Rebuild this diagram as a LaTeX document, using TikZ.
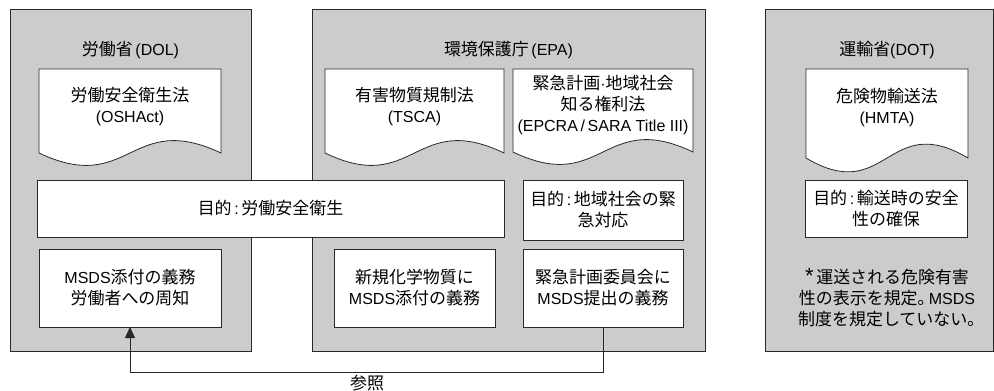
\documentclass[tikz,border=0pt]{standalone}
\usepackage{fontspec}
\setmainfont{Liberation Sans}
\newfontfamily\jp[Scale=1.06]{Noto Sans CJK JP}
\newcommand\J[1]{{\jp #1}}
\usetikzlibrary{arrows.meta}
\definecolor{panelgray}{RGB}{204,204,204}
\definecolor{linecol}{RGB}{40,40,40}
\begin{document}
\begin{tikzpicture}[x=1pt,y=-1pt,
  font=\fontsize{16}{21}\selectfont,
  panel/.style={draw=linecol, fill=panelgray, line width=0.8pt, anchor=north west, inner sep=0pt, outer sep=0pt},
  wbox/.style={draw=linecol, fill=white, line width=0.8pt, anchor=north west, inner sep=0pt, outer sep=0pt, align=center},
  docline/.style={draw=linecol, fill=white, line width=0.8pt},
  lbl/.style={align=center, inner sep=0pt},
  arr/.style={draw=linecol, line width=0.8pt, -{Triangle[length=11pt,width=10pt]}}]
\useasboundingbox (0,0) rectangle (994,391);
% panels
\node[panel, minimum width=241pt, minimum height=342pt] (p1) at (10,9) {};
\node[panel, minimum width=393pt, minimum height=342pt] (p2) at (312,9) {};
\node[panel, minimum width=228pt, minimum height=342pt] (p3) at (765,9) {};
% titles
\node[lbl] (t1) at (130.5,50) {\J{労働省}\,(DOL)};
\node[lbl] (t2) at (508.5,50) {\J{環境保護庁}\,(EPA)};
\node[lbl] (t3) at (887,50) {\J{運輸省}(DOT)};
% documents
\draw[docline] (39,69) -- (221,69) -- (221,153) .. controls (130,110) and (130,196) .. (39,153) -- cycle;
\node[lbl] (d1) at (130,107) {\J{労働安全衛生法}\\(OSHAct)};
\draw[docline] (325,69) -- (504,69) -- (504,153) .. controls (414.5,110) and (414.5,196) .. (325,153) -- cycle;
\node[lbl] (d2) at (414.5,107) {\J{有害物質規制法}\\(TSCA)};
\draw[docline] (513,69) -- (693,69) -- (693,152) .. controls (603,109) and (603,195) .. (513,152) -- cycle;
\node[lbl] (d3) at (603,105) {\J{緊急計画}·\J{地域社会}\\\J{知る権利法}\\(EPCRA\,/\,SARA Title III)};
\draw[docline] (806,69) -- (968,69) -- (968,158) .. controls (887,110) and (887,206) .. (806,158) -- cycle;
\node[lbl] (d4) at (887,108) {\J{危険物輸送法}\\(HMTA)};
% purpose boxes
\node[wbox, minimum width=467pt, minimum height=57pt] (g1) at (37,180) {\J{目的}\,:\,\J{労働安全衛生}};
\node[wbox, minimum width=160pt, minimum height=60pt] (g2) at (523,180) {\J{目的}\,:\,\J{地域社会の緊}\\\J{急対応}};
\node[wbox, minimum width=162pt, minimum height=57pt] (g3) at (805,180) {\J{目的}\,:\,\J{輸送時の安全}\\\J{性の確保}};
% obligation boxes
\node[wbox, minimum width=182pt, minimum height=78pt] (b1) at (39,249) {MSDS\J{添付の義務}\\\J{労働者への周知}};
\node[wbox, minimum width=161pt, minimum height=78pt] (b2) at (334,249) {\J{新規化学物質に}\\MSDS\J{添付の義務}};
\node[wbox, minimum width=160pt, minimum height=78pt] (b3) at (523,249) {\J{緊急計画委員会に}\\MSDS\J{提出の義務}};
% note
\node[lbl] (note) at (887,298) {{\fontsize{22}{21}\selectfont *}\,\J{運送される危険有害}\\\J{性の表示を規定｡}\,MSDS\\\J{制度を規定していない｡}};
% reference arrow
\draw[arr] (b3.south) -- ++(0,45) -| (b1.south);
\node[lbl] (ref) at (367,383) {\J{参照}};
\end{tikzpicture}
\end{document}
